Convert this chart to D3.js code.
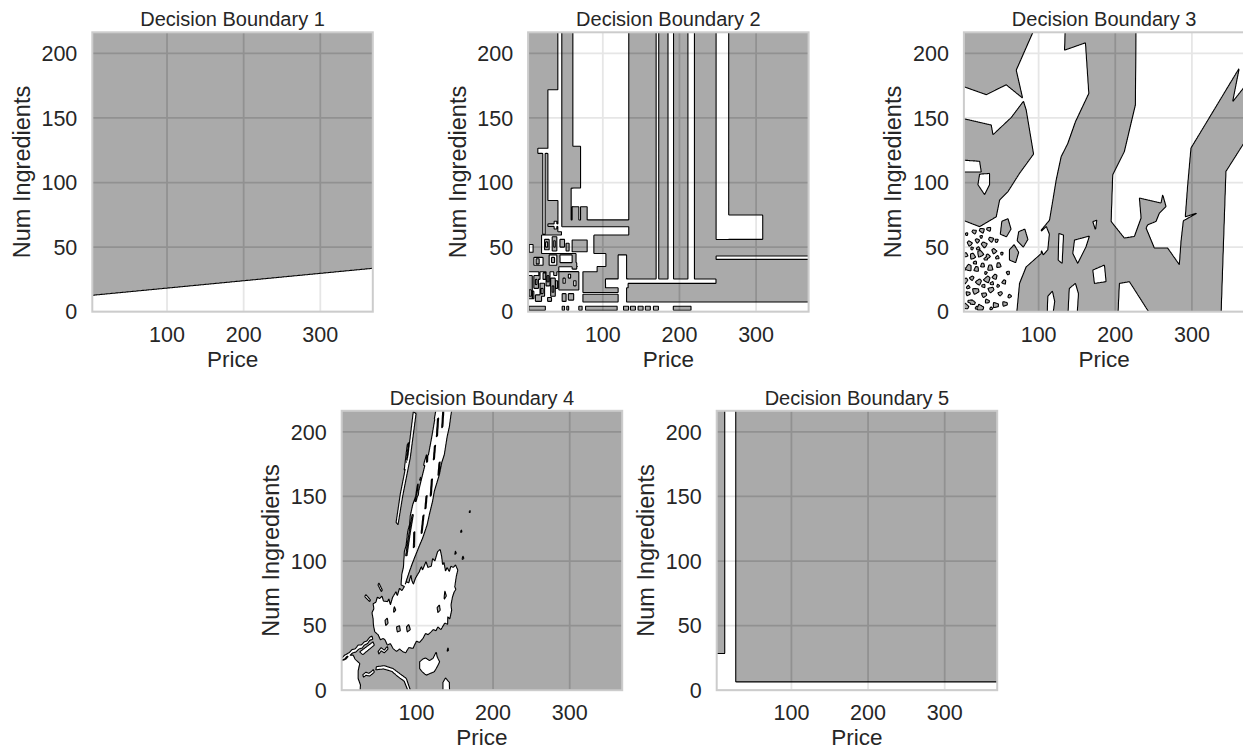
<!DOCTYPE html>
<html><head><meta charset="utf-8">
<script src="https://cdn.jsdelivr.net/npm/d3@7"></script>
<style>
body{margin:0;background:#fff;}
svg{display:block;}
text{font-family:"Liberation Sans",Arial,Helvetica,sans-serif;fill:#262626;}
</style>
</head><body>
<svg id="chart" width="1243" height="750"></svg>
<script>
// ---------------- data ----------------
const titles = ["Decision Boundary 1","Decision Boundary 2","Decision Boundary 3","Decision Boundary 4","Decision Boundary 5"];
const xLabel = "Price";
const yLabel = "Num Ingredients";
const xTicks = [100, 200, 300];
const yTicks = [0, 50, 100, 150, 200];
const xDomain = [2.5, 368.5];
const yDomain = [0, 216.3];

// class 1 = grey region, class 0 = white region; shapes painted in order over a base class
const p1Base = 1;
const p1Shapes = [
  {cls:0, pts:[[-5,-5],[-5,12.3],[375,34.0],[375,-5]]}
];

// decision tree: rectangles [cls, x0, x1, y0, y1]
const p2Base = 1;
const p2Rects = [
  [0,60.9,133.9,71,225],[1,46.5,70.9,95.7,128],[0,58.7,60.9,71,95.7],
  [0,41.3,46.5,62,225],[0,28.3,41.3,66,171.8],[0,15.2,28.3,122.5,126.5],[0,21.7,24.8,60,122.5],
  [0,46,133.9,59.3,65.8],[1,60,68.7,65.8,81.3],[1,70.9,79.6,65.8,81.3],[1,70.9,133.9,65.8,71],
  [1,28.3,41.3,68,86],[0,36.5,40,64,70],
  [0,169.6,173,24.5,225],[0,185,192.2,24.5,225],[0,211,219.5,24.5,225],
  [0,247.8,264.3,56,225],[0,247.8,308.7,56,74.8],[0,247.8,375,40.5,43.1],
  [0,103.5,247.6,21.9,25.3],[0,103.5,133,18.5,25.3],[0,120,131,7.5,44],
  [0,-5,375,-5,7.5],
  [0,20,88.3,45,59.3],[1,60,79.6,46.4,55.5],[0,65,104,35,45],[0,42.6,92.6,31,34.8],
  [0,-5,74,7.5,31],[1,42.6,68.7,16.8,31],[0,74,120,13.5,14.8],
  [0,10,22,36,42],[0,30,40,36,44],[0,44,60,38,44],[0,4,9,46,52],
  [1,2,8,10,28],[1,10,16,18,28],[1,18,24,12,22],[1,26,31,20,31],[1,32,38,12,26],
  [1,12,20,8,13],[1,47,52,8,14],[1,55,62,9,14],[1,28,33,8,11],[1,3,6,20,24],
  [1,24,30,48,56],[1,34,40,47,58],[1,44,50,50,56],[1,13,17,37,41],[1,33,37,38,42],
  [0,4,6.5,12,17],[0,12,14,21,25],[0,19.5,22,14,18],[0,27.5,29.5,23,28],[0,34,36,15,20],
  [1,8.5,10,10,16],[1,16.5,18,25,31],[1,22,25.5,25,30],[1,36,40,28,33],[1,6,9,32,36],
  [1,38.5,41,18,24],[1,14,16,46,52],[1,52,56,47,53],[0,25.5,28,50,54],[0,36,38,50,55],
  [1,18,21,33,35],[1,24,27,38,44],[1,41,44,37,42],[1,2,4,52,58],[1,9,12,54,58],
  [0,55,58,26,29],[0,62,65,20,24],[0,48,51,22,26],[1,60,66,33,38],[1,16,19,46,49],
  [1,3.5,25,1.2,4.3],[1,47,50,1.2,4.3],[1,53,55.5,1.2,4.3],[1,68.7,73,1.2,4.3],
  [1,77.4,118.7,1.2,4.3],[1,127,133.5,1.2,4.3],[1,136,142.5,1.2,4.3],[1,146,152.5,1.2,4.3],
  [1,155.5,162,1.2,4.3],[1,166,172.5,1.2,4.3],[1,192,215,1.2,4.3]
];

const p3Base = 1;
const p3Shapes = [
  {cls:0, pts:[[-5,175.7],[31.7,168],[57.8,175.7],[81.7,164.1],[64.3,150.4],[40.4,137],[38.2,144.5],[-5,150.4]]},
  {cls:0, pts:[[-5,117.6],[23,116.4],[25.2,108.1],[-5,108.1]]},
  {cls:0, pts:[[23,106.5],[36,107],[36,98.3],[29.5,90.6],[20.8,98.3]]},
  {cls:0, pts:[[99,225],[135.1,225],[133.8,202.5],[161.1,208.2],[165.5,169],[148.1,147.1],[138.1,130.3],[129.4,120],
    [122.9,101.9],[118.6,86.4],[114.2,70.9],[103.4,63.2],[103.4,45.1],[83.8,34.8],[75.1,21.9],[70.8,-5],[-5,-5],
    [-5,72.2],[23,65.8],[44.7,73.5],[49.1,86.4],[59.9,92.9],[75.1,107.1],[93.4,122],[83.8,156.1],[79.5,164.3],[70.8,187]]},
  {cls:0, pts:[[227.1,225],[372,225],[372,176.7],[353.1,162.5],[361.8,188.6],[298.8,126.7],[294.5,98],[291.4,73.5],
    [307.5,76.6],[288.8,70.4],[285.8,54.4],[283.6,36.4],[268.4,49.3],[251,49.3],[240.2,64.8],[242.3,67.3],[253.2,69.9],
    [257.6,76.4],[266.2,81.5],[261.9,90.6],[259.7,84.1],[231.5,88],[233.7,72.5],[225,58.3],[211.9,57],[194.6,69.9],
    [196.7,106],[211.9,124.1],[226.3,160.2]]},
  {cls:0, pts:[[372,134.4],[344.4,108.6],[337.9,-5],[372,-5]]},
  {cls:0, pts:[[203.3,-5],[205.4,21.9],[218.5,23.2],[248.9,-5]]},
  {cls:0, pts:[[126.4,60.6],[132.5,59.3],[130.7,37.4],[125.5,40]]},
  {cls:0, pts:[[146.8,55.5],[166.3,58.6],[161.9,50.3],[151,37.4],[144.6,45.1]]},
  {cls:0, pts:[[170.7,32.2],[185.9,36.1],[188,23.2],[172.8,21.9]]},
  {cls:0, pts:[[222.8,107.1],[227.1,105],[225.4,92.1],[221.9,96.7]]},
  {cls:0, pts:[[170.7,69.7],[175.9,70.9],[174.2,63.2]]},
  {cls:0, pts:[[103,62],[110,66],[114,60],[112,48],[106,44],[102,50]]},
  {cls:0, pts:[[140,18],[148,22],[152,14],[150,-5],[138,-5]]},
  {cls:0, pts:[[112,12],[118,16],[121,8],[118,-5],[111,-5]]},
  {cls:1, pts:[[50,60],[58,58],[64,64],[60,72],[52,70]]},
  {cls:1, pts:[[62,40],[70,38],[74,46],[68,52],[62,48]]},
  {cls:1, pts:[[72,55],[80,50],[86,56],[82,64],[74,62]]}
];
// grey islands inside the white lower-left area: [x, y, size in price units]
const p3Specks = [
  [5,4,4],[14,7,3.5],[24,3,4.5],[33,8,3],[44,5,4],[56,6,3.5],
  [8,14,3],[18,16,4.5],[29,13,3.5],[38,17,4],[50,14,3],
  [4,24,4],[13,26,3],[22,23,4],[33,25,4.5],[43,27,3.5],[55,23,3],
  [9,34,4.5],[19,33,3.5],[27,36,3],[37,34,4],[48,36,3.5],
  [5,44,3],[14,43,4],[24,45,4.5],[34,43,3],[42,47,3.5],
  [10,53,3.5],[20,55,3],[29,52,4],[38,56,3.5],
  [16,62,3],[26,63,3.5],[35,64,3],
  [10,8,2.5],[28,20,2.5],[17,38,2.5],[39,22,2.5],[31,41,2.5],[46,42,2.5],[21,49,2.5],[8,19,2.5],
  [19,3,2],[38,2.5,2],[62,12,2.5],[47,20,2],[3,33,2],[31,30,2],[13,49,2],[45,55,2.5],[52,45,2],[25,58,2],[6,60,2],[60,30,2.5]
];

const p4Base = 1;
const p4Shapes = [
  {cls:0, pts:[[43.4,55.6],[42,60],[44.5,63],[43.5,67],[47,68],[49,72],[52,71],[55,73],[57,69],[62.5,68.5],[64,71],[66,66],
    [69,72],[73.4,76.3],[75,73],[78,79],[81,77],[84.3,80.2],[87,84],[90,83],[92.9,89.2],[94,85],[96,82],[99,87],[103.8,91.8],
    [106.4,95.7],[108,93],[112.5,99.6],[115,95],[119.4,96],[121.2,102.1],[124,100],[127.7,107.3],[131,109],[133,103.4],
    [134.2,97],[136,99],[138,92],[140,95],[142.9,91.8],[145,96],[148,95],[151,97],[154,93],[152,88],[150,80],[151.5,78],
    [149.4,76.3],[147,72],[145.1,65.9],[146,62],[143.5,55],[141,57],[140.7,51],[137,52],[132,47],[128,49],[125.5,46],
    [122,47],[119.4,45.3],[115,43],[112,44],[108.5,40.1],[104,37],[100,38],[95.5,32.3],[90,33],[86,29],[82.5,29.7],
    [78,32],[74,30],[69.5,32.3],[66,36],[62,35],[59,39],[56.5,40.1],[53,39],[50,43],[45.6,45.3],[44,50]]},
  {cls:1, pts:[[60,50],[63,52],[62,56],[59,54]]},
  {cls:1, pts:[[75,45],[79,46],[78,50],[74,49]]},
  {cls:1, pts:[[128,60],[131,62],[130,66],[127,64]]},
  {cls:1, pts:[[136,70],[139,73],[137,77]]},
  {cls:1, pts:[[70,60],[73,62],[71,65]]},
  {cls:1, pts:[[88,45],[92,47],[90,51],[87,49]]},
  {cls:0, pts:[[79.9,81.5],[81,90],[83,95],[84.3,107.3],[86.5,112],[88.6,122.8],[91,128],[92,135],[95.1,143.5],[99,150],
    [101,158],[108.1,169.4],[110,176],[114,184],[119,195.2],[121,203],[124,212],[127.7,225],[148.5,225],[145,213],[143,204],
    [140,196],[136.4,182.3],[133,176],[130,167],[123.3,153.9],[121,146],[116.8,135.8],[114,128],[108.1,117.7],[104,112],
    [97.3,102.1],[94,97],[90.8,91.8],[84.3,80.2]]},
  {cls:1, pts:[[86,104],[87.6,104],[92,122],[96,136],[94.4,136],[90.4,122]]},
  {cls:1, pts:[[98,146],[99.6,146],[106,162],[111,174],[109.4,174],[104.4,162]]},
  {cls:1, pts:[[114,182],[115.6,182],[120,196],[124,210],[122.4,210],[118.4,196]]},
  {cls:1, pts:[[101,150],[102.5,151],[105,168],[103.5,167]]},
  {cls:1, pts:[[113,176],[114.5,177],[116,192],[114.5,191]]},
  {cls:1, pts:[[106,121],[107.5,122],[110,136],[108.5,135]]},
  {cls:1, pts:[[118,150],[119.5,151],[121,164],[119.5,163]]},
  {cls:1, pts:[[126,196],[127.5,197],[129,211],[127.5,210]]},
  {cls:1, pts:[[96,110],[97.5,111],[98,123],[96.5,122]]},
  {cls:1, pts:[[128,166],[129.5,167],[131,177],[129.5,176]]},
  {cls:1, pts:[[133,203],[134.5,204],[136,219],[134.5,218]]},
  {cls:1, pts:[[111,140],[112.5,141],[114,151],[112.5,150]]},
  {cls:1, pts:[[122,178],[123.5,179],[125,190],[123.5,189]]},
  {cls:0, pts:[[96,216],[99.5,214],[92,180],[82,150],[76,128],[73.5,130],[79,152],[89,182]]},
  {cls:0, pts:[[88,190],[90,192],[86,172],[84,170]]},
  {cls:0, pts:[[-5,-5],[-5,21],[3,23],[8,24],[12,27],[17.4,27.2],[20,24],[26.1,20.7],[24,15],[23.9,9.1],[27,4],[26.1,-5]]},
  {cls:0, pts:[[-5,22.5],[3,25],[6,27],[12,29],[16,31.5],[20,32],[24,35],[28,35],[32,37.5],[35,38],[39,41],[42,42],[43,39.5],
    [39,38.5],[36,36],[32,35],[29,32.5],[25,32],[21,29.5],[17,29],[13,27],[9,26],[6,24]]},
  {cls:0, pts:[[26,29.7],[43.4,37.5],[45,35],[30,27.5]]},
  {cls:0, pts:[[47.8,18.2],[58,19],[69.5,16.8],[78,13],[86.8,9.1],[95,-5],[92,-5],[84,7],[76,10.5],[68,14.5],[57,16.5],[47,15.8]]},
  {cls:0, pts:[[30,12],[34,14],[38,13],[44,16],[45,14],[39,11],[34,11.5],[31,10]]},
  {cls:0, pts:[[50,30],[54,33],[58,31],[62,34],[63,32],[58,29],[54,30.5],[51,28]]},
  {cls:0, pts:[[32.6,72.4],[39.1,68.5],[40,70],[34,74]]},
  {cls:0, pts:[[49.9,81.5],[54.2,76.3],[55.5,77.5],[51,83]]},
  {cls:0, pts:[[104.2,22],[108,24],[112,25],[117,23],[121.6,24.6],[125.9,29.7],[127,26],[130.3,22],[127,18],[123.3,14.2],
    [118,13],[112.9,11.6],[108,14],[104.2,16.8]]},
  {cls:0, pts:[[134.6,-5],[134.6,6],[138,9.5],[143,6],[143.3,-5]]},
  {cls:0, pts:[[168.5,137.5],[170.3,137.5],[170,139.5]]},
  {cls:0, pts:[[157.5,122],[159.5,122.5],[158.5,124.5]]},
  {cls:0, pts:[[159.5,101],[162,102],[160.5,104]]},
  {cls:0, pts:[[150,105],[152,106],[151,108]]},
  {cls:0, pts:[[140,30],[142,31],[141,33]]}
];

const p5Base = 0;
const p5Shapes = [
  {cls:1, pts:[[-5,28.4],[13,28.4],[13,225],[-5,225]]},
  {cls:1, pts:[[27.4,6.4],[375,6.4],[375,225],[27.4,225]]}
];

// ---------------- layout ----------------
const W = 280.5, H = 279.4;
const panelPos = [[92.3,32.3],[528.1,32.3],[963.9,32.3],[341.7,410.8],[716.7,410.8]];
const speckOutline = [1, 0.7, 1.15, 0.8, 1.05, 0.65, 0.95];

const rectsToShapes = rs => rs.map(r => ({cls:r[0], pts:[[r[1],r[3]],[r[2],r[3]],[r[2],r[4]],[r[1],r[4]]]}));
const specksToShapes = sp => sp.map((s, i) => {
  const [cx, cy, r] = s, n = speckOutline.length;
  const pts = speckOutline.map((_, j) => {
    const f = speckOutline[(i + j) % n], a = 2 * Math.PI * j / n + i;
    return [cx + r * f * Math.cos(a), cy + r * 0.6 * f * Math.sin(a)];
  });
  return {cls:1, pts};
});
const panels = [
  {base:p1Base, shapes:p1Shapes},
  {base:p2Base, shapes:rectsToShapes(p2Rects)},
  {base:p3Base, shapes:p3Shapes.concat(specksToShapes(p3Specks))},
  {base:p4Base, shapes:p4Shapes},
  {base:p5Base, shapes:p5Shapes}
];

const svg = d3.select("#chart");
const defs = svg.append("defs");

function greyRegionPath(panel, x, y){
  const k = 2, pad = 4;
  const cw = Math.ceil((W + 2*pad)*k), ch = Math.ceil((H + 2*pad)*k);
  const cv = document.createElement("canvas");
  cv.width = cw; cv.height = ch;
  const ctx = cv.getContext("2d");
  ctx.fillStyle = panel.base ? "#fff" : "#000";
  ctx.fillRect(0,0,cw,ch);
  panel.shapes.forEach(s => {
    ctx.fillStyle = s.cls ? "#fff" : "#000";
    ctx.beginPath();
    s.pts.forEach((p,i) => {
      const px = (x(p[0]) + pad)*k, py = (y(p[1]) + pad)*k;
      if (i) ctx.lineTo(px,py); else ctx.moveTo(px,py);
    });
    ctx.closePath();
    ctx.fill();
  });
  const img = ctx.getImageData(0,0,cw,ch).data;
  const vals = new Float64Array(cw*ch);
  for (let i=0;i<vals.length;i++) vals[i] = img[4*i]/255;
  const contour = d3.contours().size([cw,ch]).thresholds([0.5])(vals)[0];
  const proj = d3.geoTransform({point(px,py){ this.stream.point(px/k - pad, py/k - pad); }});
  return d3.geoPath(proj)(contour) || "";
}

panels.forEach((panel, idx) => {
  const [L, T] = panelPos[idx];
  const x = d3.scaleLinear().domain(xDomain).range([0, W]);
  const y = d3.scaleLinear().domain(yDomain).range([H, 0]);
  const g = svg.append("g").attr("transform", `translate(${L},${T})`);
  const clipId = "clip" + idx;
  defs.append("clipPath").attr("id", clipId).append("rect").attr("width", W).attr("height", H);

  g.append("rect").attr("width", W).attr("height", H).attr("fill", "#fff");
  const grid = g.append("g").attr("clip-path", `url(#${clipId})`);
  grid.selectAll(".gx").data(xTicks).join("line")
    .attr("x1", d => x(d)).attr("x2", d => x(d)).attr("y1", 0).attr("y2", H)
    .attr("stroke", "#cccccc").attr("stroke-width", 1.8);
  grid.selectAll(".gy").data(yTicks).join("line")
    .attr("y1", d => y(d)).attr("y2", d => y(d)).attr("x1", 0).attr("x2", W)
    .attr("stroke", "#cccccc").attr("stroke-width", 1.8);

  const gp = greyRegionPath(panel, x, y);
  const area = g.append("g").attr("clip-path", `url(#${clipId})`);
  area.append("path").attr("d", `M0,0H${W}V${H}H0Z` + gp)
    .attr("fill", "#ffffff").attr("fill-opacity", 0.5).attr("fill-rule", "evenodd");
  area.append("path").attr("d", gp)
    .attr("fill", "#555555").attr("fill-opacity", 0.5).attr("fill-rule", "evenodd");
  area.append("path").attr("d", gp)
    .attr("fill", "none").attr("stroke", "#000").attr("stroke-width", 1.1).attr("stroke-linejoin", "round");

  g.append("rect").attr("width", W).attr("height", H).attr("fill", "none")
    .attr("stroke", "#cccccc").attr("stroke-width", 2);

  g.selectAll(".xt").data(xTicks).join("text")
    .attr("x", d => x(d)).attr("y", H + 30).attr("text-anchor", "middle")
    .attr("font-size", 21.5).text(d => d);
  g.selectAll(".yt").data(yTicks).join("text")
    .attr("x", -15).attr("y", d => y(d)).attr("dy", "0.36em").attr("text-anchor", "end")
    .attr("font-size", 21.5).text(d => d);
  g.append("text").attr("x", W/2).attr("y", H + 55).attr("text-anchor", "middle")
    .attr("font-size", 22.5).text(xLabel);
  g.append("text").attr("transform", `translate(-62.5,${H/2}) rotate(-90)`).attr("text-anchor", "middle")
    .attr("font-size", 23.5).text(yLabel);
  g.append("text").attr("x", W/2).attr("y", -6.3).attr("text-anchor", "middle")
    .attr("font-size", 20).text(titles[idx]);
});
</script>
</body></html>
